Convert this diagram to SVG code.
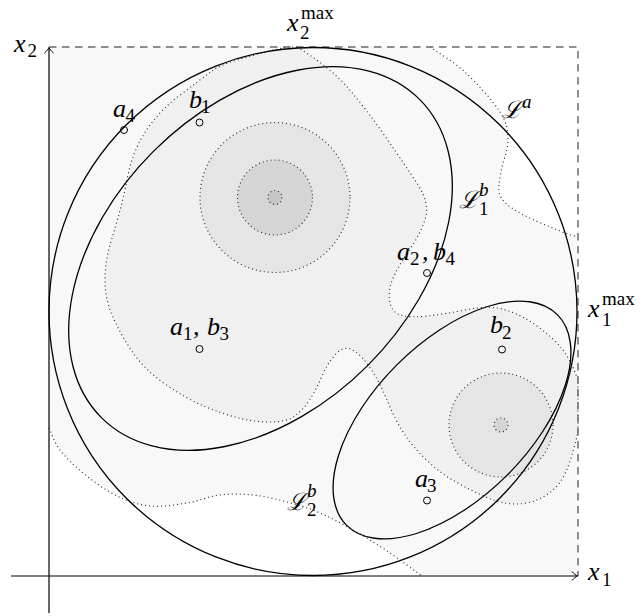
<svg xmlns="http://www.w3.org/2000/svg" width="642" height="616" viewBox="0 0 642 616">
<defs>
<style>
.dot{fill:none;stroke:#2a2a2a;stroke-width:1.15;stroke-dasharray:1 3;stroke-linecap:butt}
.dotf{stroke:#2a2a2a;stroke-width:1.15;stroke-dasharray:1 3;stroke-linecap:butt}
.blk{fill:none;stroke:#000;stroke-width:1.3}
.ax{fill:none;stroke:#000;stroke-width:1.2}
.pt{fill:none;stroke:#000;stroke-width:1}
text{font-family:"Liberation Serif","DejaVu Serif",serif;fill:#000}
.m{font-size:26px;font-style:italic}
.s{font-size:19px}
.si{font-size:19px;font-style:italic}
.cal{font-family:"DejaVu Serif","Liberation Serif",serif;font-size:24px;font-style:italic}
</style>
<marker id="arr" viewBox="-7 -6 8 12" refX="0" refY="0" markerWidth="8" markerHeight="12" markerUnits="userSpaceOnUse" orient="auto">
<path d="M-5.5,-4.5 C-3.5,-2.2 -1.5,-0.6 0,0 C-1.5,0.6 -3.5,2.2 -5.5,4.5" fill="none" stroke="#000" stroke-width="1"/>
</marker>
</defs>

<g id="regions">
<rect x="49" y="47" width="529" height="529" fill="#f8f8f8"/>
<path id="whiteTR" fill="#fff" d="M430,47 C435.5,51.2 453.3,61.2 465,72 C476.7,82.8 492.8,100.7 500,112 C507.2,123.3 507.8,130 508,140 C508.2,150 502.3,162.8 501,172 C499.7,181.2 497.2,188.3 500,195 C502.8,201.7 508,206 518,212 C528,218 550,226.8 560,231 C570,235.2 575,236 578,237 L578,47 Z"/>
<path id="whiteBL" fill="#fff" d="M49,428 C50.8,431.7 54.3,442.5 60,450 C65.7,457.5 73.5,465.3 83,473 C92.5,480.7 105.8,490.5 117,496 C128.2,501.5 138.3,504.8 150,506 C161.7,507.2 175.3,504.8 187,503 C198.7,501.2 209,496.3 220,495 C231,493.7 241.8,493.8 253,495 C264.2,496.2 275.8,499 287,502 C298.2,505 309,508.3 320,513 C331,517.7 341.8,523.7 353,530 C364.2,536.3 375.5,543.3 387,551 C398.5,558.7 416.2,571.8 422,576 L49,576 Z"/>
<path id="level2" fill="#f0f0f0" class="dotf" d="M297,47 Q330,67 348.5,88.5 Q367,110 386,137.5 Q405,165 417.5,184 Q430,203 425.5,218 Q421,233 411,247.5 Q401,262 394.5,275 Q388,288 389.5,300 Q391,312 400.5,315 Q410,318 427.5,316 Q445,314 467.5,309.5 Q490,305 506,310 Q522,315 537,326 Q552,337 561,347.5 Q570,358 578,380 L578,432 Q572,458 566,471.5 Q560,485 550,492.5 Q540,500 529,502.5 Q518,505 507.5,503.5 Q497,502 483.5,496 Q470,490 455,481.5 Q440,473 426.5,460 Q413,447 405,435 Q397,423 392,411.5 Q387,400 382,389 Q377,378 369.5,367 Q362,356 353.5,350.5 Q345,345 336.5,353.5 Q328,362 322,376 Q316,390 309.5,400 Q303,410 295,416 Q287,422 270,422 Q253,422 236.5,417.5 Q220,413 202.5,405.5 Q185,398 165,384 Q145,370 133.5,353.5 Q122,337 113.5,318.5 Q105,300 105,281 Q105,262 110,245 Q115,228 119,214 Q123,200 128,175 Q133,150 146.5,130 Q160,110 180,95 Q200,80 212.5,70.5 Q225,61 287,47 Z"/>
<circle cx="275" cy="197.5" r="75" fill="#e5e5e5" class="dotf"/>
<circle cx="275" cy="197.5" r="37.5" fill="#d5d5d5" class="dotf"/>
<circle cx="275" cy="197.5" r="7" fill="#c6c6c6" class="dotf"/>
<circle cx="501" cy="425" r="52" fill="#e5e5e5" class="dotf"/>
<circle cx="501" cy="425" r="7" fill="#d5d5d5" class="dotf"/>
<path class="dot" d="M430,47 C435.5,51.2 453.3,61.2 465,72 C476.7,82.8 492.8,100.7 500,112 C507.2,123.3 507.8,130 508,140 C508.2,150 502.3,162.8 501,172 C499.7,181.2 497.2,188.3 500,195 C502.8,201.7 508,206 518,212 C528,218 550,226.8 560,231 C570,235.2 575,236 578,237"/>
<path class="dot" d="M49,428 C50.8,431.7 54.3,442.5 60,450 C65.7,457.5 73.5,465.3 83,473 C92.5,480.7 105.8,490.5 117,496 C128.2,501.5 138.3,504.8 150,506 C161.7,507.2 175.3,504.8 187,503 C198.7,501.2 209,496.3 220,495 C231,493.7 241.8,493.8 253,495 C264.2,496.2 275.8,499 287,502 C298.2,505 309,508.3 320,513 C331,517.7 341.8,523.7 353,530 C364.2,536.3 375.5,543.3 387,551 C398.5,558.7 416.2,571.8 422,576"/>
</g>

<g id="bounds">
<path d="M49,47 H578 V576" fill="none" stroke="#6a6a6a" stroke-width="1.5" stroke-dasharray="7.5 5.5"/>
</g>

<g id="connectors">
<circle id="La" class="blk" cx="313" cy="311.5" r="264"/>
<ellipse id="L1b" class="blk" cx="260.5" cy="258.5" rx="225" ry="151.5" transform="rotate(-45 260.5 258.5)"/>
<ellipse id="L2b" class="blk" cx="452" cy="420" rx="149" ry="78" transform="rotate(-45 452 420)"/>
</g>

<g id="axes">
<path class="ax" d="M49,613 V47.5" marker-end="url(#arr)"/>
<path class="ax" d="M11,576 H577.5" marker-end="url(#arr)"/>
</g>

<g id="points">
<g id="p-a4"><circle class="pt" cx="124" cy="130" r="3.5"/><text x="113" y="117" class="m">a</text><text x="125.5" y="122" class="s">4</text></g>
<g id="p-b1"><circle class="pt" cx="199.5" cy="122.5" r="3.5"/><text x="189" y="108" class="m">b</text><text x="201" y="113" class="s">1</text></g>
<g id="p-a1b3"><circle class="pt" cx="199.5" cy="349" r="3.5"/><text x="170" y="335" class="m">a</text><text x="183" y="340" class="s">1</text><text x="193" y="335" class="m">,</text><text x="207" y="335" class="m">b</text><text x="219.5" y="340" class="s">3</text></g>
<g id="p-a2b4"><circle class="pt" cx="427" cy="273" r="3.5"/><text x="397" y="260" class="m">a</text><text x="410" y="265" class="s">2</text><text x="422" y="260" class="m">,</text><text x="433" y="260" class="m">b</text><text x="445.5" y="265" class="s">4</text></g>
<g id="p-b2"><circle class="pt" cx="502" cy="349.5" r="3.5"/><text x="490" y="333" class="m">b</text><text x="502" y="339" class="s">2</text></g>
<g id="p-a3"><circle class="pt" cx="427" cy="500.5" r="3.5"/><text x="415" y="487" class="m">a</text><text x="427" y="492" class="s">3</text></g>
</g>

<g id="labels">
<g id="lbl-x2"><text x="14" y="52" class="m">x</text><text x="27.5" y="57" class="s">2</text></g>
<g id="lbl-x2max"><text x="287" y="31" class="m">x</text><text x="301" y="19" class="s">max</text><text x="300" y="39" class="s">2</text></g>
<g id="lbl-x1max"><text x="588" y="317" class="m">x</text><text x="602" y="305" class="s">max</text><text x="602" y="326" class="s">1</text></g>
<g id="lbl-x1"><text x="588" y="580" class="m">x</text><text x="602" y="586" class="s">1</text></g>
<g id="lbl-La"><text x="502" y="118" class="cal">ℒ</text><text x="522" y="108" class="si">a</text></g>
<g id="lbl-L1b"><text x="459" y="208" class="cal">ℒ</text><text x="479" y="196" class="si">b</text><text x="479" y="215" class="s">1</text></g>
<g id="lbl-L2b"><text x="287" y="510" class="cal">ℒ</text><text x="307" y="497" class="si">b</text><text x="307" y="516" class="s">2</text></g>
</g>
</svg>
